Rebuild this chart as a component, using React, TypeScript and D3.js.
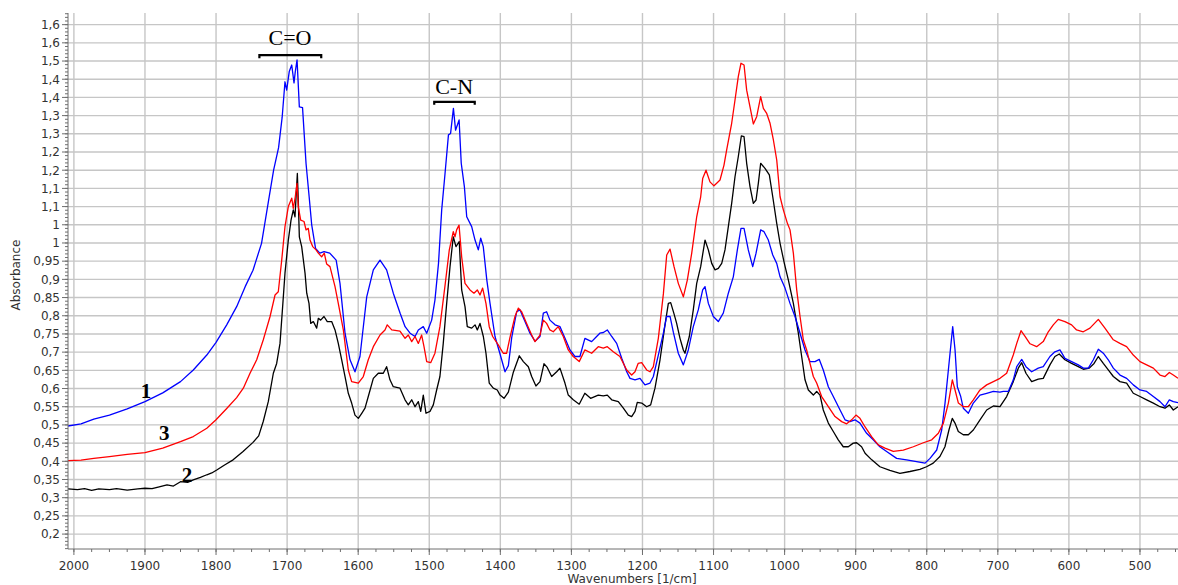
import React from "react";
import * as d3 from "d3";

// ---- Data (wavenumber [1/cm], absorbance) ----
const series1Blue: [number, number][] = [
  [2008.3,0.497],[1990,0.503],[1972,0.516],[1950,0.527],[1925,0.544],[1900,0.564],[1875,0.588],[1850,0.619],[1832,0.651],[1813,0.692],[1800,0.727],[1785,0.775],[1771,0.825],[1759,0.88],[1748,0.925],[1736,0.999],[1726,1.118],[1719,1.2],[1712,1.262],[1707,1.345],[1703,1.443],[1700.6,1.42],[1697,1.471],[1693.5,1.489],[1690.3,1.44],[1688.5,1.471],[1686,1.503],[1682.8,1.374],[1678.3,1.372],[1673.4,1.219],[1669,1.127],[1665.4,1.05],[1660,0.985],[1654,0.972],[1648,0.976],[1640,0.972],[1631,0.953],[1625.6,0.889],[1618.5,0.752],[1611.5,0.679],[1604.5,0.646],[1597.5,0.688],[1588,0.852],[1578.7,0.926],[1569.3,0.953],[1560,0.926],[1550.6,0.862],[1541,0.807],[1534,0.77],[1527,0.752],[1520,0.743],[1515.4,0.761],[1508.4,0.77],[1503.6,0.752],[1496.6,0.788],[1492,0.843],[1487,0.944],[1482.5,1.091],[1477.8,1.191],[1473,1.297],[1470,1.301],[1466,1.37],[1463,1.31],[1458,1.338],[1455,1.219],[1450.6,1.155],[1447.3,1.072],[1440.3,1.045],[1435.6,1.008],[1431,0.981],[1427.6,1.013],[1424,0.99],[1419,0.898],[1414.5,0.834],[1407.5,0.743],[1400.4,0.695],[1393.4,0.646],[1388.7,0.663],[1384,0.74],[1377,0.811],[1372.3,0.816],[1365.3,0.784],[1358.3,0.752],[1351.2,0.73],[1344.2,0.743],[1339.5,0.807],[1334.9,0.811],[1330.2,0.788],[1323,0.775],[1316,0.77],[1309,0.738],[1302,0.706],[1295,0.688],[1288,0.688],[1281,0.738],[1271.5,0.729],[1264.5,0.743],[1260,0.752],[1255,0.754],[1249.5,0.761],[1243.3,0.743],[1236.3,0.724],[1229.2,0.683],[1222.2,0.646],[1217.5,0.628],[1210.5,0.624],[1203.5,0.628],[1196.5,0.61],[1189.4,0.615],[1184.7,0.633],[1177.7,0.692],[1170.6,0.752],[1166,0.798],[1161.2,0.798],[1156.6,0.755],[1149.6,0.697],[1142.5,0.665],[1135.5,0.706],[1128.5,0.77],[1121.5,0.816],[1115.3,0.871],[1112,0.88],[1107.3,0.834],[1100.3,0.798],[1093.3,0.784],[1086.3,0.807],[1079.2,0.862],[1072.2,0.907],[1066.5,0.981],[1061.4,1.04],[1057.1,1.04],[1051.1,0.981],[1044.9,0.935],[1040.2,0.972],[1033.7,1.036],[1029,1.031],[1022.9,1.008],[1016.7,0.967],[1011.1,0.944],[1006.4,0.907],[999.4,0.876],[992.4,0.834],[985.4,0.798],[978.3,0.752],[971.3,0.706],[964.3,0.674],[957.3,0.674],[951.2,0.68],[945.6,0.651],[938.5,0.605],[931.5,0.578],[922,0.541],[915,0.514],[908,0.509],[901,0.514],[894,0.505],[884.6,0.477],[875.3,0.459],[866,0.44],[856.5,0.427],[842.4,0.408],[828.4,0.404],[814.3,0.399],[802.4,0.395],[795.4,0.408],[786,0.431],[779,0.486],[774.3,0.56],[769.6,0.651],[763.5,0.77],[760.2,0.706],[757,0.605],[752.2,0.578],[748.6,0.546],[741.5,0.532],[734.5,0.56],[725.1,0.582],[715.7,0.587],[706.3,0.592],[697,0.59],[692.3,0.592],[685.2,0.592],[678.2,0.624],[673.4,0.66],[666.4,0.68],[660.4,0.66],[652.4,0.646],[643.1,0.656],[636.1,0.66],[626.7,0.688],[619.7,0.701],[612.6,0.706],[605.6,0.683],[596.2,0.674],[586.8,0.665],[579.7,0.656],[572.7,0.656],[565.6,0.679],[558.6,0.708],[551.6,0.697],[544.6,0.679],[537.5,0.656],[528.1,0.637],[518.7,0.628],[509.4,0.61],[500,0.596],[490.6,0.592],[481.2,0.578],[471.8,0.564],[464.8,0.55],[458.7,0.569],[453.1,0.564],[446.5,0.561],
];

const series3Red: [number, number][] = [
  [2008.3,0.402],[1990,0.403],[1972,0.408],[1950,0.413],[1925,0.419],[1900,0.424],[1875,0.436],[1850,0.454],[1832,0.468],[1813,0.491],[1800,0.514],[1785,0.545],[1771,0.575],[1761.6,0.601],[1752.2,0.642],[1742.8,0.679],[1733.5,0.734],[1724,0.798],[1717,0.857],[1712.4,0.866],[1707.6,0.953],[1703,1.045],[1698.3,1.1],[1693.5,1.123],[1691.3,1.095],[1688.5,1.127],[1686.1,1.164],[1684.3,1.1],[1680.9,1.063],[1676.2,1.059],[1673.4,1.036],[1670.2,1.04],[1667.8,1.008],[1664,0.99],[1659.3,0.981],[1656.1,0.972],[1651.4,0.962],[1647.7,0.972],[1644.3,0.942],[1639.7,0.935],[1632.6,0.88],[1628,0.834],[1620.9,0.761],[1613.9,0.651],[1609.2,0.619],[1599.8,0.615],[1592.8,0.633],[1585.8,0.679],[1578.7,0.715],[1569.3,0.747],[1562.3,0.761],[1559.1,0.775],[1552.8,0.761],[1541.2,0.758],[1534,0.738],[1529.5,0.747],[1524.7,0.729],[1520,0.743],[1515.4,0.724],[1510.7,0.747],[1507.4,0.715],[1503.6,0.674],[1498,0.671],[1492,0.697],[1485,0.77],[1478,0.88],[1471.8,0.981],[1466.2,1.031],[1463.8,1.017],[1461.5,1.036],[1458.1,1.049],[1454.4,0.962],[1449.7,0.889],[1442.7,0.871],[1437.1,0.862],[1432.4,0.871],[1428.6,0.857],[1424.9,0.876],[1420.2,0.834],[1415.6,0.77],[1410.8,0.743],[1402.9,0.72],[1395.9,0.697],[1391.1,0.697],[1386.5,0.74],[1379.4,0.798],[1374.6,0.821],[1370,0.811],[1363,0.779],[1355.9,0.747],[1351.2,0.729],[1344.2,0.747],[1339.5,0.788],[1334.9,0.779],[1330.2,0.761],[1325.5,0.756],[1318.5,0.77],[1311.4,0.743],[1304.4,0.706],[1297.4,0.688],[1289,0.674],[1281.1,0.706],[1271.5,0.697],[1262.2,0.715],[1255.1,0.711],[1249.5,0.715],[1241.1,0.701],[1231.7,0.688],[1222.2,0.651],[1215.2,0.637],[1210.5,0.646],[1206.1,0.669],[1201.1,0.671],[1194.1,0.651],[1189.4,0.646],[1184.7,0.66],[1177.7,0.738],[1170.6,0.86],[1165.9,0.967],[1161.2,0.983],[1155.6,0.935],[1149.6,0.889],[1142.5,0.852],[1136.9,0.898],[1130.7,0.972],[1123.7,1.072],[1118.1,1.127],[1115.3,1.177],[1110.6,1.2],[1105,1.168],[1099.4,1.157],[1095.6,1.164],[1090.9,1.173],[1085.3,1.214],[1081.6,1.255],[1074.5,1.329],[1069.8,1.393],[1065.2,1.457],[1061.4,1.494],[1057.1,1.489],[1053.4,1.42],[1048.7,1.374],[1044,1.327],[1039.3,1.347],[1033.7,1.402],[1029.9,1.37],[1025.2,1.356],[1020.5,1.329],[1015.8,1.283],[1011.1,1.228],[1006.4,1.127],[1001.8,1.091],[996.1,1.054],[992.4,1.036],[987.7,0.972],[983,0.871],[978.3,0.798],[973.7,0.734],[969,0.706],[964.3,0.669],[959.6,0.633],[954.9,0.615],[947.9,0.578],[938.5,0.55],[929.1,0.523],[919.7,0.509],[912.7,0.503],[905.7,0.514],[899.6,0.527],[894,0.518],[887,0.495],[877.6,0.468],[868.2,0.445],[858.8,0.436],[847.1,0.427],[833,0.431],[818.9,0.44],[804.8,0.451],[793,0.459],[783.7,0.477],[776.6,0.505],[769.6,0.56],[764,0.624],[760.2,0.596],[755.5,0.56],[748.5,0.55],[741.5,0.55],[734.5,0.569],[725.1,0.596],[715.7,0.61],[706.3,0.619],[697,0.628],[687.6,0.642],[678.3,0.692],[673.4,0.724],[667.4,0.759],[661.7,0.743],[654.7,0.723],[645.4,0.715],[636.1,0.729],[629,0.756],[622,0.775],[615,0.79],[605.6,0.784],[596.2,0.775],[589.2,0.761],[579.8,0.756],[570.4,0.766],[558.6,0.79],[549.3,0.766],[537.5,0.734],[528.2,0.724],[518.8,0.715],[509.4,0.692],[500,0.674],[490.6,0.665],[481.2,0.656],[471.8,0.637],[464.8,0.633],[458.7,0.644],[453.1,0.637],[446.5,0.628],
];

const series2Black: [number, number][] = [
  [2008.3,0.324],[1995,0.322],[1985,0.325],[1975,0.32],[1965,0.324],[1950,0.322],[1940,0.325],[1925,0.321],[1910,0.324],[1900,0.326],[1890,0.325],[1880,0.33],[1869,0.335],[1860,0.332],[1850,0.344],[1840,0.342],[1832,0.349],[1822,0.356],[1813,0.363],[1806,0.368],[1799,0.376],[1788,0.39],[1776,0.404],[1762,0.427],[1748,0.452],[1740,0.47],[1733.5,0.51],[1726.5,0.564],[1719.4,0.642],[1714.7,0.669],[1710,0.724],[1706.3,0.825],[1703,0.917],[1698.3,1.008],[1694.5,1.063],[1691.3,1.091],[1688.9,1.072],[1685.6,1.191],[1684.3,1.118],[1682.8,1.017],[1679.5,0.99],[1674.8,0.917],[1672.4,0.862],[1669.2,0.834],[1666.8,0.779],[1663.1,0.784],[1658.4,0.766],[1656.1,0.793],[1652.8,0.788],[1648.1,0.798],[1643.5,0.784],[1637.3,0.784],[1632.6,0.761],[1628,0.724],[1623.2,0.679],[1618.5,0.633],[1613.9,0.587],[1609.2,0.56],[1604.5,0.527],[1599.8,0.518],[1595,0.532],[1590.4,0.546],[1585.8,0.578],[1578.7,0.628],[1571.7,0.642],[1564.7,0.642],[1560,0.66],[1555.3,0.624],[1550.6,0.605],[1541.2,0.601],[1534.1,0.569],[1529.5,0.555],[1524.7,0.569],[1520,0.55],[1515.4,0.564],[1512,0.537],[1508.4,0.582],[1504.6,0.532],[1499,0.537],[1494.3,0.555],[1489.6,0.596],[1485,0.633],[1480.3,0.724],[1475.5,0.834],[1470.8,0.935],[1466.2,1.017],[1462.4,0.99],[1457.8,1.004],[1454.4,0.871],[1449.7,0.825],[1446.5,0.77],[1440.3,0.766],[1435.6,0.775],[1432.4,0.761],[1428.6,0.779],[1423.9,0.743],[1420.2,0.697],[1415.6,0.615],[1409.9,0.601],[1404.3,0.596],[1400.4,0.582],[1394.8,0.573],[1388.7,0.59],[1381.7,0.645],[1373.3,0.69],[1367.6,0.674],[1360.6,0.66],[1355.9,0.633],[1349.9,0.607],[1344.2,0.619],[1338.6,0.668],[1334,0.658],[1327.8,0.633],[1320.7,0.646],[1316.1,0.656],[1309.1,0.615],[1304.4,0.582],[1297.4,0.569],[1289,0.557],[1281.1,0.587],[1273,0.573],[1262.2,0.582],[1255.1,0.58],[1249.5,0.582],[1243.3,0.569],[1234,0.564],[1226.9,0.546],[1219.9,0.527],[1215.2,0.523],[1210.5,0.537],[1207.3,0.562],[1201.1,0.56],[1194.1,0.55],[1188.5,0.555],[1182.4,0.601],[1175.3,0.679],[1168.3,0.775],[1163.6,0.834],[1160.3,0.836],[1155.6,0.805],[1151.9,0.779],[1147.2,0.738],[1142.5,0.706],[1140.2,0.697],[1134.1,0.743],[1128.5,0.816],[1123.7,0.889],[1118.1,0.935],[1112,1.008],[1107.3,0.981],[1102.6,0.944],[1097.9,0.926],[1093.3,0.93],[1088.5,0.944],[1083.9,0.981],[1079.2,1.045],[1074.5,1.109],[1069.8,1.182],[1065.2,1.237],[1060.9,1.294],[1057.1,1.292],[1053.4,1.219],[1048.7,1.155],[1044,1.109],[1040.2,1.118],[1037,1.164],[1033.7,1.219],[1027.6,1.205],[1021.5,1.187],[1016.7,1.127],[1011.1,1.054],[1006.4,0.999],[1000.4,0.944],[994.7,0.898],[987.7,0.834],[980.7,0.752],[976,0.688],[971.3,0.624],[966.6,0.596],[959.6,0.582],[954.9,0.592],[950.2,0.582],[945.6,0.541],[938.5,0.505],[931.5,0.482],[924.5,0.459],[917.5,0.44],[910.4,0.44],[903.4,0.45],[898.7,0.451],[891.7,0.44],[886.8,0.422],[877.4,0.404],[865.9,0.385],[851.9,0.375],[837.8,0.367],[823.7,0.372],[809.7,0.378],[800.3,0.385],[790.9,0.395],[781.5,0.413],[774.4,0.44],[768.8,0.486],[764.1,0.518],[760.3,0.505],[755.6,0.482],[748.6,0.473],[741.5,0.473],[734.5,0.486],[725.1,0.514],[715.7,0.541],[706.3,0.552],[697,0.55],[687.6,0.578],[678.3,0.619],[671.2,0.656],[666.4,0.671],[660.4,0.642],[652.4,0.619],[643.1,0.626],[636.1,0.628],[626.7,0.665],[619.7,0.688],[613.6,0.695],[605.6,0.679],[596.2,0.669],[586.8,0.66],[579.7,0.653],[571.3,0.656],[564.6,0.669],[558.6,0.688],[551.6,0.669],[544.6,0.651],[537.5,0.633],[528.2,0.619],[518.8,0.615],[509.4,0.587],[500,0.578],[490.6,0.569],[481.2,0.56],[471.8,0.55],[464.8,0.546],[458.7,0.555],[453.1,0.541],[446.5,0.55],
];

const xTickValues = [2000, 1900, 1800, 1700, 1600, 1500, 1400, 1300, 1200, 1100, 1000, 900, 800, 700, 600, 500];
const yTickValues = [0.2,0.25,0.3,0.35,0.4,0.45,0.5,0.55,0.6,0.65,0.7,0.75,0.8,0.85,0.9,0.95,1.0,1.05,1.1,1.15,1.2,1.25,1.3,1.35,1.4,1.45,1.5,1.55,1.6];
const yTickLabels = ["0,2","0,25","0,3","0,35","0,4","0,45","0,5","0,55","0,6","0,65","0,7","0,75","0,8","0,85","0,9","0,95","1","1","1,1","1,1","1,2","1,2","1,3","1,3","1,4","1,4","1,5","1,6","1,6"];

const peakLabels = [
  { text: "C=O", wn: 1696, a: 1.544, from: 1739, to: 1652, bracketA: 1.516 },
  { text: "C-N", wn: 1465, a: 1.409, from: 1493, to: 1436, bracketA: 1.388 },
];
const curveLabels = [
  { text: "1", wn: 1898.5, a: 0.574 },
  { text: "3", wn: 1873, a: 0.459 },
  { text: "2", wn: 1841, a: 0.343 },
];

const W = 1178, H = 585;
const left = 68, right = 1178, top = 13, bottom = 549;

export default function App() {
  const x = d3.scaleLinear().domain([2008.3, 446.5]).range([left, right]);
  const y = d3.scaleLinear().domain([0.159, 1.632]).range([bottom, top]);
  const line = d3.line<[number, number]>().x(d => x(d[0])).y(d => y(d[1]));

  const xMinor = d3.range(2000, 446, -25);
  const yMinor = d3.range(16, 164).map(v => v / 100);
  const font = "'DejaVu Sans', Verdana, sans-serif";
  const serif = "'Liberation Serif', 'Times New Roman', serif";

  return (
    <svg width={W} height={H} style={{ position: "absolute", left: 0, top: 0, background: "#fff" }}>
      <defs>
        <clipPath id="plot"><rect x={left} y={top} width={right - left} height={bottom - top} /></clipPath>
      </defs>
      <g stroke="#c6c6c6" strokeWidth={1.4}>
        {yTickValues.map(v => <line key={"gy" + v} x1={left} x2={right} y1={y(v)} y2={y(v)} />)}
        {xTickValues.map(v => <line key={"gx" + v} x1={x(v)} x2={x(v)} y1={top} y2={bottom} />)}
      </g>
      <g clipPath="url(#plot)" fill="none" strokeWidth={1.3} strokeLinejoin="round">
        <path d={line(series2Black) || ""} stroke="#000000" />
        <path d={line(series1Blue) || ""} stroke="#0000ff" />
        <path d={line(series3Red) || ""} stroke="#ff0000" />
      </g>
      {/* axes */}
      <g stroke="#6e6e6e" strokeWidth={1}>
        <line x1={left} x2={left} y1={top} y2={bottom} />
        <line x1={left} x2={right} y1={bottom} y2={bottom} />
        {yMinor.map(v => <line key={"ym" + v} x1={left - 3} x2={left} y1={y(v)} y2={y(v)} />)}
        {yTickValues.map(v => <line key={"yt" + v} x1={left - 6} x2={left} y1={y(v)} y2={y(v)} />)}
        {xMinor.map(v => <line key={"xm" + v} x1={x(v)} x2={x(v)} y1={bottom} y2={bottom + 3} />)}
        {xTickValues.map(v => <line key={"xt" + v} x1={x(v)} x2={x(v)} y1={bottom} y2={bottom + 6} />)}
      </g>
      <g fontFamily={font} fontSize={12} fill="#333">
        {yTickValues.map((v, i) => (
          <text key={"yl" + v} x={left - 8} y={y(v)} dy="0.36em" textAnchor="end">{yTickLabels[i]}</text>
        ))}
        {xTickValues.map(v => (
          <text key={"xl" + v} x={x(v)} y={570} textAnchor="middle">{v}</text>
        ))}
        <text x={632} y={583} textAnchor="middle">Wavenumbers [1/cm]</text>
        <text transform={`translate(20,${(top + bottom) / 2 - 6}) rotate(-90)`} textAnchor="middle">Absorbance</text>
      </g>
      {/* annotations */}
      <g fontFamily={serif} fill="#000">
        {peakLabels.map(p => (
          <g key={p.text}>
            <text x={x(p.wn)} y={y(p.a)} fontSize={22} textAnchor="middle">{p.text}</text>
            <path d={`M${x(p.from)},${y(p.bracketA) + 3} L${x(p.from)},${y(p.bracketA)} L${x(p.to)},${y(p.bracketA)} L${x(p.to)},${y(p.bracketA) + 3}`}
              fill="none" stroke="#000" strokeWidth={2.2} />
          </g>
        ))}
        {curveLabels.map(c => (
          <text key={c.text} x={x(c.wn)} y={y(c.a)} fontSize={21} fontWeight="bold" textAnchor="middle">{c.text}</text>
        ))}
      </g>
    </svg>
  );
}
